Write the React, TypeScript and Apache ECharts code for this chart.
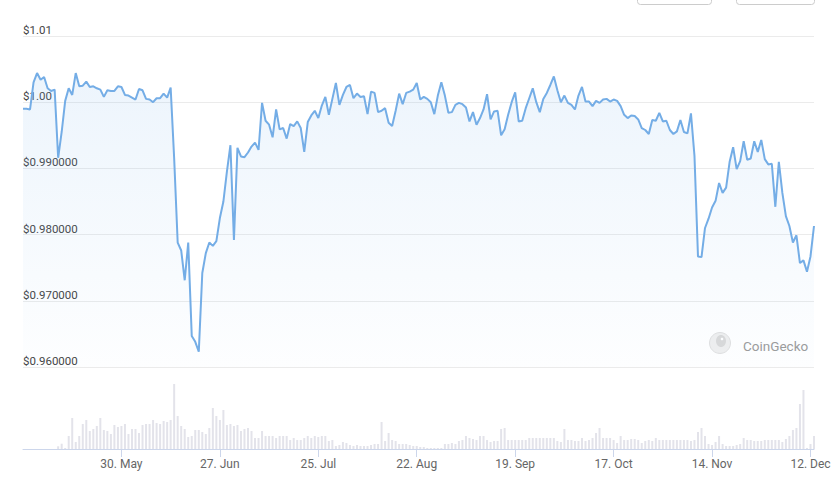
import React, { useEffect, useRef } from 'react';
import * as echarts from 'echarts';

// Day 0 = 2 May 2022, one point per day
const startDate = Date.UTC(2022, 4, 2);
const monthNames = ['Jan', 'Feb', 'Mar', 'Apr', 'May', 'Jun', 'Jul', 'Aug', 'Sep', 'Oct', 'Nov', 'Dec'];
const tickDays = [28, 56, 84, 112, 140, 168, 196, 224];

const prices = [
  0.9990, 0.9990, 0.9989, 1.0030, 1.0044, 1.0034, 1.0038, 1.0021, 1.0017, 1.0019,
  0.9916, 0.9955, 1.0002, 1.0021, 1.0011, 1.0044, 1.0024, 1.0025, 1.0031, 1.0023,
  1.0024, 1.0021, 1.0019, 1.0008, 1.0018, 1.0017, 1.0017, 1.0024, 1.0023, 1.0011,
  1.0010, 1.0007, 1.0004, 1.0020, 1.0018, 1.0005, 1.0004, 1.0000, 1.0006, 1.0006,
  1.0013, 1.0007, 1.0022, 0.9915, 0.9788, 0.9776, 0.9731, 0.9788, 0.9647, 0.9638,
  0.9623, 0.9742, 0.9772, 0.9788, 0.9783, 0.9790, 0.9825, 0.9850, 0.9895, 0.9935,
  0.9792, 0.9931, 0.9918, 0.9917, 0.9924, 0.9933, 0.9939, 0.9928, 0.9999, 0.9972,
  0.9966, 0.9947, 0.9989, 0.9959, 0.9961, 0.9945, 0.9967, 0.9964, 0.9971, 0.9961,
  0.9925, 0.9970, 0.9980, 0.9987, 0.9976, 0.9995, 1.0008, 0.9981, 1.0005, 1.0029,
  0.9996, 1.0011, 1.0023, 1.0026, 1.0006, 1.0013, 1.0008, 1.0009, 0.9982, 1.0016,
  1.0014, 0.9985, 0.9987, 0.9991, 0.9969, 0.9964, 0.9987, 1.0013, 0.9997, 1.0014,
  1.0016, 1.0019, 1.0029, 1.0004, 1.0008, 1.0005, 1.0000, 0.9982, 1.0010, 1.0030,
  1.0010, 0.9984, 0.9985, 0.9996, 0.9999, 0.9997, 0.9992, 0.9971, 0.9985, 0.9966,
  0.9976, 0.9989, 1.0012, 0.9974, 0.9986, 0.9987, 0.9950, 0.9959, 0.9981, 1.0000,
  1.0015, 0.9971, 0.9972, 0.9991, 1.0006, 1.0021, 1.0000, 0.9985, 1.0005, 1.0014,
  1.0026, 1.0039, 1.0018, 1.0000, 1.0010, 0.9999, 0.9996, 0.9989, 1.0010, 1.0023,
  1.0001, 1.0001, 0.9994, 1.0002, 0.9999, 1.0004, 1.0005, 1.0001, 1.0004, 1.0002,
  0.9994, 0.9981, 0.9976, 0.9980, 0.9979, 0.9974, 0.9961, 0.9958, 0.9952, 0.9973,
  0.9972, 0.9984, 0.9971, 0.9972, 0.9958, 0.9952, 0.9956, 0.9973, 0.9955, 0.9953,
  0.9983, 0.9919, 0.9767, 0.9766, 0.9810, 0.9824, 0.9841, 0.9851, 0.9878, 0.9863,
  0.9871, 0.9910, 0.9932, 0.9899, 0.9911, 0.9941, 0.9913, 0.9915, 0.9941, 0.9925,
  0.9943, 0.9914, 0.9906, 0.9907, 0.9842, 0.9910, 0.9863, 0.9828, 0.9813, 0.9788,
  0.9799, 0.9757, 0.9761, 0.9744, 0.9767, 0.9813,
];

const volumes = [
  0, 0, 0, 0, 0, 0, 0, 0, 0, 0,
  2.7, 5.3, 1, 13, 31, 7, 13, 25, 29, 18,
  20, 23, 31, 19, 18, 15, 24, 22, 23, 25,
  15, 20, 20, 16, 24, 25, 25, 29, 26, 25,
  28, 27, 29, 65, 33, 23, 20, 12, 13, 19,
  19, 17, 15, 21, 41, 33, 29, 39, 24, 25,
  23, 24, 18, 20, 21, 18, 11, 11, 18, 13,
  13, 13, 11, 13, 13, 13, 9, 11, 9, 9,
  11, 13, 11, 13, 12, 13, 13, 8, 9, 3,
  4, 7, 6, 4, 3, 4, 3, 3, 3, 4,
  5, 5, 27, 8, 16, 9, 8, 5, 5, 5,
  4, 3, 3, 2, 2, 1,
  1, 1, 1, 1, 5, 5, 6, 5, 8, 9,
  13, 11, 10, 9, 13, 13, 9, 7, 8, 8,
  20, 21, 9, 9, 9, 9, 9, 9, 11, 11,
  11, 11, 11, 11, 11, 11,
  8, 7, 20, 9, 9, 8, 8, 11, 8, 9,
  11, 16, 21, 11, 11, 11, 9, 6, 13, 9,
  9, 10, 10, 9, 6, 8, 9, 8, 11, 9,
  9, 9, 9, 9, 9, 9, 9, 9, 8, 9,
  17, 21, 13, 5, 4, 7, 13, 5, 3,
  3, 3, 4, 5, 11, 9, 9, 8, 8, 8, 9, 9, 9,
  9, 9, 7, 10, 13, 19, 21, 45, 59, 1, 5, 13,
];

const FONT = 'Roboto, "Noto Sans", sans-serif';

function dayLabel(d: number): string {
  const dt = new Date(startDate + Math.round(d) * 86400000);
  return `${dt.getUTCDate()}. ${monthNames[dt.getUTCMonth()]}`;
}

function priceLabel(v: number): string {
  const r = Math.round(v * 1000) / 1000;
  return r >= 1 ? '$' + r.toFixed(2) : '$' + r.toFixed(6);
}

export default function App() {
  const ref = useRef<HTMLDivElement>(null);
  useEffect(() => {
    if (!ref.current) return;
    const chart = echarts.init(ref.current, undefined, { renderer: 'svg' });
    const lastDay = prices.length - 1;
    chart.setOption({
      animation: false,
      backgroundColor: '#ffffff',
      grid: [
        { left: 23, right: 25, top: 36, bottom: 114 },
        { left: 23, right: 25, top: 375, bottom: 32 },
      ],
      xAxis: [
        { type: 'value', gridIndex: 0, min: 0, max: lastDay, show: false },
        {
          type: 'value',
          gridIndex: 1,
          min: 0,
          max: lastDay,
          axisLine: { show: true, lineStyle: { color: '#ccd6eb', width: 1 } },
          axisTick: { show: true, customValues: tickDays, length: 8, lineStyle: { color: '#ccd6eb' } },
          axisLabel: {
            customValues: tickDays,
            formatter: (v: number) => dayLabel(v),
            color: '#666666',
            fontSize: 12,
            fontFamily: FONT,
            margin: 9,
          },
          splitLine: { show: false },
        },
      ],
      yAxis: [
        {
          type: 'value',
          gridIndex: 0,
          min: 0.96,
          max: 1.01,
          interval: 0.01,
          position: 'left',
          axisLine: { show: false },
          axisTick: { show: false },
          splitLine: { show: true, lineStyle: { color: '#ebebeb', width: 1 } },
          axisLabel: {
            inside: true,
            margin: 0,
            verticalAlign: 'bottom',
            padding: [0, 0, 0, 0],
            formatter: (v: number) => priceLabel(v),
            color: '#444444',
            fontSize: 11.5,
            fontFamily: FONT,
          },
        },
        { type: 'value', gridIndex: 1, min: 0, max: 74, show: false, splitLine: { show: false } },
      ],
      series: [
        {
          type: 'line',
          xAxisIndex: 0,
          yAxisIndex: 0,
          data: prices.map((p, i) => [i, p]),
          symbol: 'none',
          showSymbol: false,
          lineStyle: { color: '#74ade6', width: 2 },
          areaStyle: {
            color: new echarts.graphic.LinearGradient(0, 0, 0, 1, [
              { offset: 0, color: 'rgba(124,181,236,0.2)' },
              { offset: 1, color: 'rgba(124,181,236,0.02)' },
            ]),
          },
          z: 3,
        },
        {
          type: 'bar',
          xAxisIndex: 1,
          yAxisIndex: 1,
          data: volumes.map((v, i) => [i, v]),
          barWidth: 2,
          itemStyle: { color: '#e3e3ea' },
        },
      ],
      graphic: [
        {
          type: 'rect',
          shape: { x: 637.5, y: -20, width: 74, height: 24.5, r: 3 },
          style: { fill: '#ffffff', stroke: '#cccccc', lineWidth: 1 },
        },
        {
          type: 'rect',
          shape: { x: 736.5, y: -20, width: 78, height: 24.5, r: 3 },
          style: { fill: '#ffffff', stroke: '#cccccc', lineWidth: 1 },
        },
        {
          type: 'circle',
          shape: { cx: 720, cy: 343, r: 10.5 },
          style: { fill: '#efefef', stroke: '#e0e0e0', lineWidth: 1 },
        },
        {
          type: 'ellipse',
          shape: { cx: 721, cy: 341, rx: 5, ry: 6 },
          style: { fill: '#d9d9d9' },
        },
        {
          type: 'circle',
          shape: { cx: 722, cy: 339, r: 1.3 },
          style: { fill: '#ffffff' },
        },
        {
          type: 'text',
          x: 743,
          y: 346,
          style: {
            text: 'CoinGecko',
            fill: '#9b9b9b',
            font: `13.5px ${FONT}`,
            verticalAlign: 'middle',
            align: 'left',
          },
        },
      ],
    });
    return () => chart.dispose();
  }, []);
  return (
    <div
      ref={ref}
      style={{ position: 'fixed', left: 0, top: 0, width: 839, height: 481, background: '#fff' }}
    />
  );
}
